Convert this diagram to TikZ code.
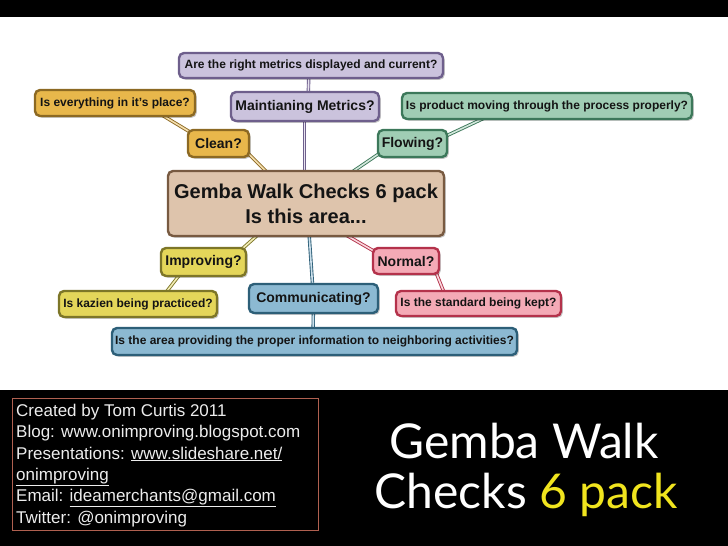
\documentclass[tikz,border=0pt]{standalone}
\usepackage{fontspec}
\setmainfont{Liberation Sans}
\newfontfamily\titlefont{Lato}
\usetikzlibrary{calc,shadows,backgrounds}
\definecolor{purF}{HTML}{CBC3DD}\definecolor{purB}{HTML}{6E5F8C}
\definecolor{golF}{HTML}{E8B74B}\definecolor{golB}{HTML}{8C6923}
\definecolor{grnF}{HTML}{A0CDB4}\definecolor{grnB}{HTML}{3C785A}
\definecolor{tanF}{HTML}{DEC4AC}\definecolor{tanB}{HTML}{785A41}
\definecolor{yelF}{HTML}{E4D65A}\definecolor{yelB}{HTML}{7D7628}
\definecolor{bluF}{HTML}{8CB9D2}\definecolor{bluB}{HTML}{2D5F78}
\definecolor{pnkF}{HTML}{F4AAB6}\definecolor{pnkB}{HTML}{B4324B}
\definecolor{infoB}{HTML}{B06050}
\definecolor{sixpack}{HTML}{F0E41E}
\begin{document}
\begin{tikzpicture}[x=1pt,y=-1pt,
  box/.style={line width=2.4pt, rounded corners=5pt, inner sep=0pt, align=center,
    drop shadow={shadow xshift=1.8pt, shadow yshift=-1.8pt, fill=black, opacity=0.22},
    text=black!92},
  qs/.style={box, font=\fontsize{12}{14}\selectfont\bfseries},
  lab/.style={box, font=\fontsize{14}{16}\selectfont\bfseries},
  pbox/.style={draw=purB, fill=purF},
  gbox/.style={draw=golB, fill=golF},
  nbox/.style={draw=grnB, fill=grnF},
  tbox/.style={draw=tanB, fill=tanF},
  ybox/.style={draw=yelB, fill=yelF},
  bbox/.style={draw=bluB, fill=bluF},
  rbox/.style={draw=pnkB, fill=pnkF},
  link/.style={line width=0.9pt, double distance=1.6pt},
  plink/.style={link, draw=purB, double=purF!45!white},
  glink/.style={link, draw=golB, double=golF!45!white},
  nlink/.style={link, draw=grnB, double=grnF!45!white},
  ylink/.style={link, draw=yelB, double=yelF!45!white},
  blink/.style={link, draw=bluB, double=bluF!45!white},
  rlink/.style={link, draw=pnkB, double=pnkF!45!white}]
\useasboundingbox (0,0) rectangle (728,546);
\begin{scope}[on background layer]
  \fill[white] (0,0) rectangle (728,546);
\end{scope}
\fill[black] (0,0) rectangle (728,17);
\fill[black] (0,390) rectangle (728,546);

% mind map nodes
\node[qs, pbox, minimum width=264, minimum height=25] (metricsQ) at (311,65.5) {Are the right metrics displayed and current?};
\node[lab, pbox, minimum width=148, minimum height=29] (maint) at (305,106.5) {Maintianing Metrics?};
\node[qs, gbox, minimum width=160, minimum height=26] (placeQ) at (115,103) {Is everything in it's place?};
\node[lab, gbox, minimum width=61, minimum height=27] (clean) at (218.5,143.5) {Clean?};
\node[qs, nbox, minimum width=290, minimum height=26] (productQ) at (547,106) {Is product moving through the process properly?};
\node[lab, nbox, minimum width=69, minimum height=27] (flowing) at (412.5,143.5) {Flowing?};
\node[box, tbox, minimum width=276, minimum height=65, font=\fontsize{20}{25}\selectfont\bfseries] (center) at (306,203.5) {Gemba Walk Checks 6 pack\\Is this area...};
\node[lab, ybox, minimum width=85, minimum height=28] (improving) at (203.5,262) {Improving?};
\node[qs, ybox, minimum width=158, minimum height=26] (kazienQ) at (138,304) {Is kazien being practiced?};
\node[lab, bbox, minimum width=129, minimum height=29] (comm) at (313.5,298.5) {Communicating?};
\node[qs, bbox, minimum width=405, minimum height=27] (areaQ) at (314.5,341.5) {Is the area providing the proper information to neighboring activities?};
\node[lab, rbox, minimum width=66, minimum height=26] (normal) at (406,261) {Normal?};
\node[qs, rbox, minimum width=165, minimum height=25] (standardQ) at (478.5,303.5) {Is the standard being kept?};

% connectors
\begin{scope}[on background layer]
  \draw[plink] ($(metricsQ)+(-2,0)$) -- ($(maint)+(3,0)$);
  \draw[plink] ($(maint)+(-0.5,0)$) -- ($(center)+(-1.5,0)$);
  \draw[glink] ($(placeQ)+(27,0)$) -- ($(clean)+(-9.5,0)$);
  \draw[glink] ($(clean)+(19.5,0)$) -- ($(center)+(-26,-18.5)$);
  \draw[nlink] ($(productQ)+(-37,0)$) -- ($(flowing)+(17.5,0)$);
  \draw[nlink] ($(flowing)+(-18.5,0)$) -- ($(center)+(27,-18.5)$);
  \draw[ylink] ($(center)+(-26,11.5)$) -- ($(improving)+(24,0)$);
  \draw[ylink] ($(kazienQ)+(19,0)$) -- ($(improving)+(-14,0)$);
  \draw[blink] ($(center)+(1,0)$) -- (comm);
  \draw[blink] ($(areaQ)+(-1.5,0)$) -- (comm);
  \draw[rlink] ($(center)+(5.5,11.5)$) -- ($(normal)+(-15,0)$);
  \draw[rlink] ($(normal)+(25.4,0)$) -- ($(standardQ)+(-30,0)$);
\end{scope}

% bottom band
\node[draw=infoB, line width=0.8pt, minimum width=306, minimum height=132, inner sep=0pt] (info) at (165,464) {};
\node[anchor=north west, align=left, inner sep=0pt, text=white!93!black,
  font=\fontsize{17}{21.3}\selectfont] (infotext) at (16,404)
  {Created by Tom Curtis 2011\\
   Blog: www.onimproving.blogspot.com\\
   Presentations: \underline{www.slideshare.net/}\\
   \underline{onimproving}\\
   Email: \underline{ideamerchants@gmail.com}\\
   Twitter: @onimproving};
\node[anchor=base, inner sep=0pt, text=white, font=\titlefont\fontsize{48}{48}\selectfont] (title1) at (524,458) {Gemba Walk};
\node[anchor=base, inner sep=0pt, text=white, font=\titlefont\fontsize{48}{48}\selectfont] (title2) at (526,508) {Checks \textcolor{sixpack}{6 pack}};
\end{tikzpicture}
\end{document}
